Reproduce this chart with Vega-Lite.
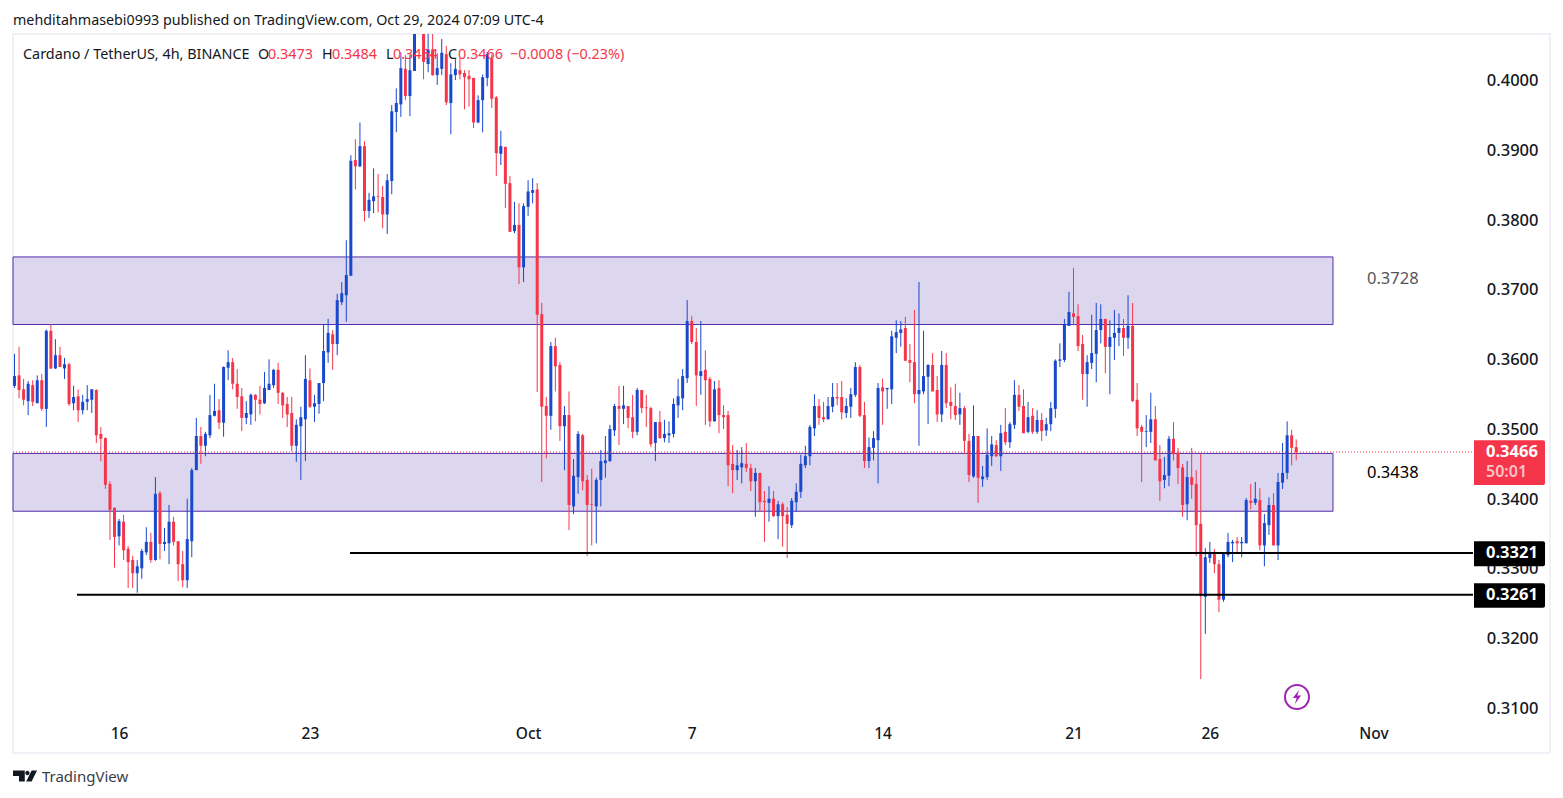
{"$schema":"https://vega.github.io/schema/vega-lite/v6.json","width":1537,"height":719,"autosize":"none","padding":{"left":13,"top":34,"right":13,"bottom":45},"background":"#ffffff","config":{"view":{"stroke":"#f0f0f6","strokeWidth":2},"font":"Noto Sans"},
"title":{"text":"mehditahmasebi0993 published on TradingView.com, Oct 29, 2024 07:09 UTC-4","anchor":"start","frame":"group","font":"Noto Sans","fontSize":14.3,"fontWeight":"normal","color":"#131722","offset":6},
"datasets":{"candles":[
{"t":"2024-09-12T04:00Z","d":"up","o":0.3561,"h":0.3607,"l":0.3558,"c":0.3575},
{"t":"2024-09-12T08:00Z","d":"down","o":0.3576,"h":0.3617,"l":0.3543,"c":0.3555},
{"t":"2024-09-12T12:00Z","d":"down","o":0.3556,"h":0.3571,"l":0.3533,"c":0.3541},
{"t":"2024-09-12T16:00Z","d":"up","o":0.3539,"h":0.3568,"l":0.3519,"c":0.3564},
{"t":"2024-09-12T20:00Z","d":"down","o":0.3562,"h":0.3569,"l":0.3532,"c":0.3538},
{"t":"2024-09-13T00:00Z","d":"up","o":0.3536,"h":0.3576,"l":0.3536,"c":0.3569},
{"t":"2024-09-13T04:00Z","d":"down","o":0.3569,"h":0.3578,"l":0.3525,"c":0.3528},
{"t":"2024-09-13T08:00Z","d":"up","o":0.3528,"h":0.3642,"l":0.3502,"c":0.3640},
{"t":"2024-09-13T12:00Z","d":"down","o":0.3640,"h":0.3649,"l":0.3585,"c":0.3586},
{"t":"2024-09-13T16:00Z","d":"up","o":0.3586,"h":0.3628,"l":0.3585,"c":0.3605},
{"t":"2024-09-13T20:00Z","d":"down","o":0.3605,"h":0.3617,"l":0.3588,"c":0.3588},
{"t":"2024-09-14T00:00Z","d":"up","o":0.3586,"h":0.3601,"l":0.3571,"c":0.3592},
{"t":"2024-09-14T04:00Z","d":"down","o":0.3592,"h":0.3594,"l":0.3532,"c":0.3535},
{"t":"2024-09-14T08:00Z","d":"up","o":0.3536,"h":0.3561,"l":0.3526,"c":0.3545},
{"t":"2024-09-14T12:00Z","d":"down","o":0.3546,"h":0.3556,"l":0.3509,"c":0.3526},
{"t":"2024-09-14T16:00Z","d":"up","o":0.3526,"h":0.3548,"l":0.3520,"c":0.3538},
{"t":"2024-09-14T20:00Z","d":"up","o":0.3538,"h":0.3562,"l":0.3526,"c":0.3542},
{"t":"2024-09-15T00:00Z","d":"up","o":0.3541,"h":0.3556,"l":0.3522,"c":0.3556},
{"t":"2024-09-15T04:00Z","d":"down","o":0.3555,"h":0.3556,"l":0.3479,"c":0.3490},
{"t":"2024-09-15T08:00Z","d":"down","o":0.3492,"h":0.3502,"l":0.3453,"c":0.3485},
{"t":"2024-09-15T12:00Z","d":"down","o":0.3486,"h":0.3487,"l":0.3413,"c":0.3419},
{"t":"2024-09-15T16:00Z","d":"down","o":0.3420,"h":0.3424,"l":0.3340,"c":0.3383},
{"t":"2024-09-15T20:00Z","d":"down","o":0.3386,"h":0.3386,"l":0.3300,"c":0.3344},
{"t":"2024-09-16T00:00Z","d":"up","o":0.3345,"h":0.3370,"l":0.3332,"c":0.3367},
{"t":"2024-09-16T04:00Z","d":"down","o":0.3366,"h":0.3376,"l":0.3311,"c":0.3325},
{"t":"2024-09-16T08:00Z","d":"down","o":0.3327,"h":0.3331,"l":0.3271,"c":0.3308},
{"t":"2024-09-16T12:00Z","d":"down","o":0.3311,"h":0.3317,"l":0.3271,"c":0.3292},
{"t":"2024-09-16T16:00Z","d":"up","o":0.3292,"h":0.3311,"l":0.3264,"c":0.3302},
{"t":"2024-09-16T20:00Z","d":"up","o":0.3299,"h":0.3327,"l":0.3284,"c":0.3324},
{"t":"2024-09-17T00:00Z","d":"up","o":0.3322,"h":0.3358,"l":0.3318,"c":0.3337},
{"t":"2024-09-17T04:00Z","d":"down","o":0.3337,"h":0.3350,"l":0.3307,"c":0.3311},
{"t":"2024-09-17T08:00Z","d":"up","o":0.3311,"h":0.3430,"l":0.3310,"c":0.3406},
{"t":"2024-09-17T12:00Z","d":"down","o":0.3407,"h":0.3410,"l":0.3312,"c":0.3334},
{"t":"2024-09-17T16:00Z","d":"up","o":0.3334,"h":0.3357,"l":0.3324,"c":0.3337},
{"t":"2024-09-17T20:00Z","d":"up","o":0.3335,"h":0.3390,"l":0.3305,"c":0.3366},
{"t":"2024-09-18T00:00Z","d":"down","o":0.3366,"h":0.3373,"l":0.3332,"c":0.3337},
{"t":"2024-09-18T04:00Z","d":"down","o":0.3338,"h":0.3338,"l":0.3281,"c":0.3305},
{"t":"2024-09-18T08:00Z","d":"down","o":0.3305,"h":0.3324,"l":0.3272,"c":0.3282},
{"t":"2024-09-18T12:00Z","d":"up","o":0.3282,"h":0.3399,"l":0.3271,"c":0.3341},
{"t":"2024-09-18T16:00Z","d":"up","o":0.3338,"h":0.3443,"l":0.3315,"c":0.3440},
{"t":"2024-09-18T20:00Z","d":"up","o":0.3440,"h":0.3515,"l":0.3440,"c":0.3489},
{"t":"2024-09-19T00:00Z","d":"down","o":0.3489,"h":0.3502,"l":0.3449,"c":0.3475},
{"t":"2024-09-19T04:00Z","d":"up","o":0.3475,"h":0.3495,"l":0.3460,"c":0.3492},
{"t":"2024-09-19T08:00Z","d":"up","o":0.3490,"h":0.3548,"l":0.3486,"c":0.3519},
{"t":"2024-09-19T12:00Z","d":"up","o":0.3518,"h":0.3564,"l":0.3517,"c":0.3525},
{"t":"2024-09-19T16:00Z","d":"down","o":0.3526,"h":0.3542,"l":0.3499,"c":0.3508},
{"t":"2024-09-19T20:00Z","d":"up","o":0.3508,"h":0.3589,"l":0.3488,"c":0.3588},
{"t":"2024-09-20T00:00Z","d":"up","o":0.3587,"h":0.3612,"l":0.3569,"c":0.3595},
{"t":"2024-09-20T04:00Z","d":"down","o":0.3595,"h":0.3601,"l":0.3556,"c":0.3564},
{"t":"2024-09-20T08:00Z","d":"down","o":0.3564,"h":0.3585,"l":0.3528,"c":0.3545},
{"t":"2024-09-20T12:00Z","d":"down","o":0.3546,"h":0.3558,"l":0.3496,"c":0.3515},
{"t":"2024-09-20T16:00Z","d":"up","o":0.3515,"h":0.3539,"l":0.3506,"c":0.3522},
{"t":"2024-09-20T20:00Z","d":"up","o":0.3520,"h":0.3550,"l":0.3505,"c":0.3548},
{"t":"2024-09-21T00:00Z","d":"down","o":0.3548,"h":0.3549,"l":0.3510,"c":0.3541},
{"t":"2024-09-21T04:00Z","d":"down","o":0.3541,"h":0.3561,"l":0.3520,"c":0.3535},
{"t":"2024-09-21T08:00Z","d":"up","o":0.3536,"h":0.3581,"l":0.3535,"c":0.3558},
{"t":"2024-09-21T12:00Z","d":"up","o":0.3555,"h":0.3599,"l":0.3555,"c":0.3564},
{"t":"2024-09-21T16:00Z","d":"up","o":0.3562,"h":0.3585,"l":0.3558,"c":0.3584},
{"t":"2024-09-21T20:00Z","d":"down","o":0.3584,"h":0.3594,"l":0.3535,"c":0.3551},
{"t":"2024-09-22T00:00Z","d":"down","o":0.3551,"h":0.3552,"l":0.3515,"c":0.3533},
{"t":"2024-09-22T04:00Z","d":"down","o":0.3535,"h":0.3545,"l":0.3502,"c":0.3520},
{"t":"2024-09-22T08:00Z","d":"down","o":0.3522,"h":0.3545,"l":0.3467,"c":0.3475},
{"t":"2024-09-22T12:00Z","d":"up","o":0.3475,"h":0.3513,"l":0.3452,"c":0.3505},
{"t":"2024-09-22T16:00Z","d":"up","o":0.3503,"h":0.3531,"l":0.3426,"c":0.3516},
{"t":"2024-09-22T20:00Z","d":"up","o":0.3513,"h":0.3605,"l":0.3453,"c":0.3571},
{"t":"2024-09-23T00:00Z","d":"down","o":0.3569,"h":0.3586,"l":0.3529,"c":0.3531},
{"t":"2024-09-23T04:00Z","d":"up","o":0.3531,"h":0.3548,"l":0.3509,"c":0.3536},
{"t":"2024-09-23T08:00Z","d":"up","o":0.3535,"h":0.3565,"l":0.3521,"c":0.3565},
{"t":"2024-09-23T12:00Z","d":"up","o":0.3565,"h":0.3650,"l":0.3539,"c":0.3611},
{"t":"2024-09-23T16:00Z","d":"up","o":0.3609,"h":0.3657,"l":0.3594,"c":0.3637},
{"t":"2024-09-23T20:00Z","d":"down","o":0.3635,"h":0.3641,"l":0.3584,"c":0.3621},
{"t":"2024-09-24T00:00Z","d":"up","o":0.3621,"h":0.3693,"l":0.3605,"c":0.3684},
{"t":"2024-09-24T04:00Z","d":"up","o":0.3681,"h":0.3710,"l":0.3677,"c":0.3694},
{"t":"2024-09-24T08:00Z","d":"up","o":0.3691,"h":0.3770,"l":0.3653,"c":0.3720},
{"t":"2024-09-24T12:00Z","d":"up","o":0.3719,"h":0.3892,"l":0.3719,"c":0.3884},
{"t":"2024-09-24T16:00Z","d":"down","o":0.3885,"h":0.3915,"l":0.3843,"c":0.3876},
{"t":"2024-09-24T20:00Z","d":"up","o":0.3876,"h":0.3939,"l":0.3875,"c":0.3905},
{"t":"2024-09-25T00:00Z","d":"down","o":0.3905,"h":0.3912,"l":0.3797,"c":0.3812},
{"t":"2024-09-25T04:00Z","d":"up","o":0.3812,"h":0.3838,"l":0.3802,"c":0.3828},
{"t":"2024-09-25T08:00Z","d":"up","o":0.3826,"h":0.3873,"l":0.3809,"c":0.3833},
{"t":"2024-09-25T12:00Z","d":"down","o":0.3833,"h":0.3865,"l":0.3810,"c":0.3832},
{"t":"2024-09-25T16:00Z","d":"down","o":0.3832,"h":0.3848,"l":0.3787,"c":0.3807},
{"t":"2024-09-25T20:00Z","d":"up","o":0.3807,"h":0.3865,"l":0.3779,"c":0.3856},
{"t":"2024-09-26T00:00Z","d":"up","o":0.3855,"h":0.3964,"l":0.3836,"c":0.3955},
{"t":"2024-09-26T04:00Z","d":"up","o":0.3954,"h":0.3988,"l":0.3925,"c":0.3967},
{"t":"2024-09-26T08:00Z","d":"up","o":0.3965,"h":0.4040,"l":0.3947,"c":0.4017},
{"t":"2024-09-26T12:00Z","d":"down","o":0.4016,"h":0.4036,"l":0.3971,"c":0.3977},
{"t":"2024-09-26T16:00Z","d":"up","o":0.3977,"h":0.4036,"l":0.3948,"c":0.4014},
{"t":"2024-09-26T20:00Z","d":"up","o":0.4013,"h":0.4085,"l":0.4013,"c":0.4072},
{"t":"2024-09-27T00:00Z","d":"up","o":0.4085,"h":0.4120,"l":0.4072,"c":0.4105},
{"t":"2024-09-27T04:00Z","d":"down","o":0.4075,"h":0.4085,"l":0.4001,"c":0.4026},
{"t":"2024-09-27T08:00Z","d":"up","o":0.4023,"h":0.4078,"l":0.4011,"c":0.4044},
{"t":"2024-09-27T12:00Z","d":"down","o":0.4044,"h":0.4078,"l":0.4006,"c":0.4007},
{"t":"2024-09-27T16:00Z","d":"up","o":0.4007,"h":0.4038,"l":0.3993,"c":0.4017},
{"t":"2024-09-27T20:00Z","d":"up","o":0.4016,"h":0.4059,"l":0.4007,"c":0.4039},
{"t":"2024-09-28T00:00Z","d":"down","o":0.4037,"h":0.4049,"l":0.3964,"c":0.3968},
{"t":"2024-09-28T04:00Z","d":"up","o":0.3967,"h":0.4024,"l":0.3922,"c":0.4008},
{"t":"2024-09-28T08:00Z","d":"up","o":0.4007,"h":0.4030,"l":0.4000,"c":0.4016},
{"t":"2024-09-28T12:00Z","d":"down","o":0.4014,"h":0.4031,"l":0.4001,"c":0.4008},
{"t":"2024-09-28T16:00Z","d":"down","o":0.4010,"h":0.4014,"l":0.3958,"c":0.4004},
{"t":"2024-09-28T20:00Z","d":"down","o":0.4006,"h":0.4014,"l":0.3962,"c":0.4001},
{"t":"2024-09-29T00:00Z","d":"down","o":0.4003,"h":0.4003,"l":0.3931,"c":0.3939},
{"t":"2024-09-29T04:00Z","d":"up","o":0.3939,"h":0.3978,"l":0.3938,"c":0.3971},
{"t":"2024-09-29T08:00Z","d":"up","o":0.3971,"h":0.4008,"l":0.3925,"c":0.4004},
{"t":"2024-09-29T12:00Z","d":"up","o":0.4003,"h":0.4040,"l":0.3991,"c":0.4037},
{"t":"2024-09-29T16:00Z","d":"down","o":0.4031,"h":0.4037,"l":0.3960,"c":0.3973},
{"t":"2024-09-29T20:00Z","d":"down","o":0.3975,"h":0.3977,"l":0.3862,"c":0.3895},
{"t":"2024-09-30T00:00Z","d":"up","o":0.3894,"h":0.3927,"l":0.3878,"c":0.3905},
{"t":"2024-09-30T04:00Z","d":"down","o":0.3904,"h":0.3904,"l":0.3816,"c":0.3851},
{"t":"2024-09-30T08:00Z","d":"down","o":0.3852,"h":0.3862,"l":0.3782,"c":0.3782},
{"t":"2024-09-30T12:00Z","d":"up","o":0.3783,"h":0.3825,"l":0.3780,"c":0.3792},
{"t":"2024-09-30T16:00Z","d":"down","o":0.3792,"h":0.3823,"l":0.3707,"c":0.3731},
{"t":"2024-09-30T20:00Z","d":"up","o":0.3731,"h":0.3823,"l":0.3710,"c":0.3819},
{"t":"2024-10-01T00:00Z","d":"up","o":0.3818,"h":0.3856,"l":0.3805,"c":0.3840},
{"t":"2024-10-01T04:00Z","d":"up","o":0.3838,"h":0.3859,"l":0.3823,"c":0.3842},
{"t":"2024-10-01T08:00Z","d":"down","o":0.3843,"h":0.3852,"l":0.3552,"c":0.3663},
{"t":"2024-10-01T12:00Z","d":"down","o":0.3664,"h":0.3680,"l":0.3423,"c":0.3531},
{"t":"2024-10-01T16:00Z","d":"down","o":0.3532,"h":0.3545,"l":0.3457,"c":0.3518},
{"t":"2024-10-01T20:00Z","d":"up","o":0.3518,"h":0.3624,"l":0.3498,"c":0.3618},
{"t":"2024-10-02T00:00Z","d":"down","o":0.3618,"h":0.3630,"l":0.3553,"c":0.3589},
{"t":"2024-10-02T04:00Z","d":"down","o":0.3591,"h":0.3595,"l":0.3482,"c":0.3503},
{"t":"2024-10-02T08:00Z","d":"up","o":0.3503,"h":0.3532,"l":0.3440,"c":0.3519},
{"t":"2024-10-02T12:00Z","d":"down","o":0.3519,"h":0.3553,"l":0.3354,"c":0.3390},
{"t":"2024-10-02T16:00Z","d":"up","o":0.3388,"h":0.3456,"l":0.3377,"c":0.3432},
{"t":"2024-10-02T20:00Z","d":"up","o":0.3430,"h":0.3496,"l":0.3406,"c":0.3492},
{"t":"2024-10-03T00:00Z","d":"down","o":0.3490,"h":0.3492,"l":0.3411,"c":0.3424},
{"t":"2024-10-03T04:00Z","d":"down","o":0.3426,"h":0.3433,"l":0.3317,"c":0.3390},
{"t":"2024-10-03T08:00Z","d":"down","o":0.3391,"h":0.3442,"l":0.3332,"c":0.3390},
{"t":"2024-10-03T12:00Z","d":"up","o":0.3388,"h":0.3429,"l":0.3335,"c":0.3426},
{"t":"2024-10-03T16:00Z","d":"up","o":0.3426,"h":0.3469,"l":0.3388,"c":0.3453},
{"t":"2024-10-03T20:00Z","d":"up","o":0.3450,"h":0.3489,"l":0.3429,"c":0.3454},
{"t":"2024-10-04T00:00Z","d":"up","o":0.3453,"h":0.3505,"l":0.3452,"c":0.3499},
{"t":"2024-10-04T04:00Z","d":"up","o":0.3497,"h":0.3535,"l":0.3489,"c":0.3532},
{"t":"2024-10-04T08:00Z","d":"down","o":0.3532,"h":0.3561,"l":0.3476,"c":0.3528},
{"t":"2024-10-04T12:00Z","d":"up","o":0.3528,"h":0.3561,"l":0.3506,"c":0.3533},
{"t":"2024-10-04T16:00Z","d":"down","o":0.3532,"h":0.3532,"l":0.3500,"c":0.3515},
{"t":"2024-10-04T20:00Z","d":"down","o":0.3516,"h":0.3548,"l":0.3486,"c":0.3495},
{"t":"2024-10-05T00:00Z","d":"up","o":0.3495,"h":0.3558,"l":0.3490,"c":0.3555},
{"t":"2024-10-05T04:00Z","d":"down","o":0.3555,"h":0.3555,"l":0.3522,"c":0.3529},
{"t":"2024-10-05T08:00Z","d":"down","o":0.3530,"h":0.3548,"l":0.3502,"c":0.3529},
{"t":"2024-10-05T12:00Z","d":"down","o":0.3529,"h":0.3531,"l":0.3473,"c":0.3477},
{"t":"2024-10-05T16:00Z","d":"up","o":0.3479,"h":0.3509,"l":0.3453,"c":0.3509},
{"t":"2024-10-05T20:00Z","d":"down","o":0.3509,"h":0.3525,"l":0.3485,"c":0.3486},
{"t":"2024-10-06T00:00Z","d":"up","o":0.3486,"h":0.3512,"l":0.3480,"c":0.3492},
{"t":"2024-10-06T04:00Z","d":"up","o":0.3490,"h":0.3510,"l":0.3479,"c":0.3493},
{"t":"2024-10-06T08:00Z","d":"up","o":0.3492,"h":0.3543,"l":0.3487,"c":0.3535},
{"t":"2024-10-06T12:00Z","d":"up","o":0.3533,"h":0.3571,"l":0.3515,"c":0.3546},
{"t":"2024-10-06T16:00Z","d":"up","o":0.3543,"h":0.3585,"l":0.3526,"c":0.3575},
{"t":"2024-10-06T20:00Z","d":"up","o":0.3572,"h":0.3684,"l":0.3565,"c":0.3654},
{"t":"2024-10-07T00:00Z","d":"down","o":0.3654,"h":0.3661,"l":0.3621,"c":0.3624},
{"t":"2024-10-07T04:00Z","d":"down","o":0.3624,"h":0.3644,"l":0.3532,"c":0.3576},
{"t":"2024-10-07T08:00Z","d":"up","o":0.3575,"h":0.3654,"l":0.3548,"c":0.3582},
{"t":"2024-10-07T12:00Z","d":"down","o":0.3584,"h":0.3612,"l":0.3505,"c":0.3569},
{"t":"2024-10-07T16:00Z","d":"down","o":0.3571,"h":0.3574,"l":0.3502,"c":0.3510},
{"t":"2024-10-07T20:00Z","d":"up","o":0.3510,"h":0.3568,"l":0.3510,"c":0.3556},
{"t":"2024-10-08T00:00Z","d":"down","o":0.3558,"h":0.3569,"l":0.3493,"c":0.3519},
{"t":"2024-10-08T04:00Z","d":"down","o":0.3519,"h":0.3533,"l":0.3499,"c":0.3516},
{"t":"2024-10-08T08:00Z","d":"down","o":0.3519,"h":0.3525,"l":0.3417,"c":0.3447},
{"t":"2024-10-08T12:00Z","d":"down","o":0.3449,"h":0.3476,"l":0.3407,"c":0.3440},
{"t":"2024-10-08T16:00Z","d":"up","o":0.3440,"h":0.3469,"l":0.3426,"c":0.3447},
{"t":"2024-10-08T20:00Z","d":"up","o":0.3444,"h":0.3473,"l":0.3421,"c":0.3450},
{"t":"2024-10-09T00:00Z","d":"down","o":0.3449,"h":0.3479,"l":0.3437,"c":0.3443},
{"t":"2024-10-09T04:00Z","d":"down","o":0.3443,"h":0.3449,"l":0.3410,"c":0.3424},
{"t":"2024-10-09T08:00Z","d":"up","o":0.3424,"h":0.3443,"l":0.3373,"c":0.3436},
{"t":"2024-10-09T12:00Z","d":"down","o":0.3436,"h":0.3436,"l":0.3380,"c":0.3394},
{"t":"2024-10-09T16:00Z","d":"down","o":0.3396,"h":0.3410,"l":0.3337,"c":0.3394},
{"t":"2024-10-09T20:00Z","d":"up","o":0.3393,"h":0.3417,"l":0.3366,"c":0.3399},
{"t":"2024-10-10T00:00Z","d":"down","o":0.3399,"h":0.3410,"l":0.3373,"c":0.3374},
{"t":"2024-10-10T04:00Z","d":"up","o":0.3374,"h":0.3396,"l":0.3341,"c":0.3391},
{"t":"2024-10-10T08:00Z","d":"down","o":0.3391,"h":0.3394,"l":0.3330,"c":0.3374},
{"t":"2024-10-10T12:00Z","d":"down","o":0.3376,"h":0.3387,"l":0.3314,"c":0.3363},
{"t":"2024-10-10T16:00Z","d":"up","o":0.3361,"h":0.3400,"l":0.3357,"c":0.3396},
{"t":"2024-10-10T20:00Z","d":"up","o":0.3394,"h":0.3421,"l":0.3381,"c":0.3409},
{"t":"2024-10-11T00:00Z","d":"up","o":0.3409,"h":0.3462,"l":0.3400,"c":0.3449},
{"t":"2024-10-11T04:00Z","d":"up","o":0.3447,"h":0.3475,"l":0.3443,"c":0.3460},
{"t":"2024-10-11T08:00Z","d":"up","o":0.3460,"h":0.3505,"l":0.3447,"c":0.3502},
{"t":"2024-10-11T12:00Z","d":"up","o":0.3500,"h":0.3549,"l":0.3489,"c":0.3532},
{"t":"2024-10-11T16:00Z","d":"down","o":0.3532,"h":0.3542,"l":0.3505,"c":0.3515},
{"t":"2024-10-11T20:00Z","d":"down","o":0.3516,"h":0.3538,"l":0.3509,"c":0.3513},
{"t":"2024-10-12T00:00Z","d":"up","o":0.3513,"h":0.3545,"l":0.3513,"c":0.3532},
{"t":"2024-10-12T04:00Z","d":"up","o":0.3531,"h":0.3565,"l":0.3523,"c":0.3545},
{"t":"2024-10-12T08:00Z","d":"down","o":0.3545,"h":0.3565,"l":0.3533,"c":0.3543},
{"t":"2024-10-12T12:00Z","d":"down","o":0.3545,"h":0.3568,"l":0.3513,"c":0.3523},
{"t":"2024-10-12T16:00Z","d":"up","o":0.3522,"h":0.3543,"l":0.3515,"c":0.3532},
{"t":"2024-10-12T20:00Z","d":"up","o":0.3531,"h":0.3558,"l":0.3515,"c":0.3549},
{"t":"2024-10-13T00:00Z","d":"up","o":0.3548,"h":0.3595,"l":0.3545,"c":0.3588},
{"t":"2024-10-13T04:00Z","d":"down","o":0.3588,"h":0.3591,"l":0.3516,"c":0.3518},
{"t":"2024-10-13T08:00Z","d":"down","o":0.3519,"h":0.3538,"l":0.3443,"c":0.3453},
{"t":"2024-10-13T12:00Z","d":"up","o":0.3453,"h":0.3487,"l":0.3443,"c":0.3473},
{"t":"2024-10-13T16:00Z","d":"up","o":0.3472,"h":0.3496,"l":0.3454,"c":0.3486},
{"t":"2024-10-13T20:00Z","d":"up","o":0.3483,"h":0.3565,"l":0.3421,"c":0.3558},
{"t":"2024-10-14T00:00Z","d":"down","o":0.3559,"h":0.3571,"l":0.3505,"c":0.3553},
{"t":"2024-10-14T04:00Z","d":"up","o":0.3556,"h":0.3558,"l":0.3528,"c":0.3558},
{"t":"2024-10-14T08:00Z","d":"up","o":0.3556,"h":0.3640,"l":0.3535,"c":0.3632},
{"t":"2024-10-14T12:00Z","d":"up","o":0.3630,"h":0.3655,"l":0.3608,"c":0.3638},
{"t":"2024-10-14T16:00Z","d":"up","o":0.3637,"h":0.3654,"l":0.3617,"c":0.3642},
{"t":"2024-10-14T20:00Z","d":"down","o":0.3644,"h":0.3660,"l":0.3597,"c":0.3597},
{"t":"2024-10-15T00:00Z","d":"down","o":0.3598,"h":0.3621,"l":0.3566,"c":0.3594},
{"t":"2024-10-15T04:00Z","d":"down","o":0.3595,"h":0.3670,"l":0.3536,"c":0.3549},
{"t":"2024-10-15T08:00Z","d":"up","o":0.3549,"h":0.3710,"l":0.3475,"c":0.3555},
{"t":"2024-10-15T12:00Z","d":"up","o":0.3553,"h":0.3640,"l":0.3549,"c":0.3575},
{"t":"2024-10-15T16:00Z","d":"up","o":0.3574,"h":0.3592,"l":0.3506,"c":0.3591},
{"t":"2024-10-15T20:00Z","d":"down","o":0.3591,"h":0.3608,"l":0.3553,"c":0.3553},
{"t":"2024-10-16T00:00Z","d":"down","o":0.3555,"h":0.3575,"l":0.3509,"c":0.3520},
{"t":"2024-10-16T04:00Z","d":"up","o":0.3520,"h":0.3611,"l":0.3509,"c":0.3591},
{"t":"2024-10-16T08:00Z","d":"down","o":0.3591,"h":0.3608,"l":0.3529,"c":0.3536},
{"t":"2024-10-16T12:00Z","d":"down","o":0.3538,"h":0.3559,"l":0.3513,"c":0.3532},
{"t":"2024-10-16T16:00Z","d":"down","o":0.3532,"h":0.3564,"l":0.3512,"c":0.3519},
{"t":"2024-10-16T20:00Z","d":"up","o":0.3520,"h":0.3551,"l":0.3505,"c":0.3529},
{"t":"2024-10-17T00:00Z","d":"down","o":0.3529,"h":0.3532,"l":0.3463,"c":0.3482},
{"t":"2024-10-17T04:00Z","d":"down","o":0.3482,"h":0.3492,"l":0.3423,"c":0.3433},
{"t":"2024-10-17T08:00Z","d":"up","o":0.3431,"h":0.3533,"l":0.3429,"c":0.3489},
{"t":"2024-10-17T12:00Z","d":"down","o":0.3489,"h":0.3489,"l":0.3393,"c":0.3429},
{"t":"2024-10-17T16:00Z","d":"up","o":0.3427,"h":0.3446,"l":0.3416,"c":0.3431},
{"t":"2024-10-17T20:00Z","d":"up","o":0.3430,"h":0.3500,"l":0.3426,"c":0.3462},
{"t":"2024-10-18T00:00Z","d":"up","o":0.3460,"h":0.3489,"l":0.3446,"c":0.3477},
{"t":"2024-10-18T04:00Z","d":"down","o":0.3476,"h":0.3483,"l":0.3459,"c":0.3460},
{"t":"2024-10-18T08:00Z","d":"up","o":0.3460,"h":0.3505,"l":0.3439,"c":0.3493},
{"t":"2024-10-18T12:00Z","d":"down","o":0.3495,"h":0.3529,"l":0.3476,"c":0.3480},
{"t":"2024-10-18T16:00Z","d":"up","o":0.3480,"h":0.3509,"l":0.3472,"c":0.3506},
{"t":"2024-10-18T20:00Z","d":"up","o":0.3505,"h":0.3569,"l":0.3499,"c":0.3548},
{"t":"2024-10-19T00:00Z","d":"down","o":0.3548,"h":0.3562,"l":0.3525,"c":0.3531},
{"t":"2024-10-19T04:00Z","d":"down","o":0.3532,"h":0.3556,"l":0.3493,"c":0.3493},
{"t":"2024-10-19T08:00Z","d":"up","o":0.3495,"h":0.3538,"l":0.3493,"c":0.3516},
{"t":"2024-10-19T12:00Z","d":"down","o":0.3518,"h":0.3529,"l":0.3492,"c":0.3495},
{"t":"2024-10-19T16:00Z","d":"up","o":0.3495,"h":0.3526,"l":0.3492,"c":0.3512},
{"t":"2024-10-19T20:00Z","d":"down","o":0.3512,"h":0.3522,"l":0.3482,"c":0.3496},
{"t":"2024-10-20T00:00Z","d":"up","o":0.3497,"h":0.3515,"l":0.3489,"c":0.3506},
{"t":"2024-10-20T04:00Z","d":"up","o":0.3506,"h":0.3538,"l":0.3496,"c":0.3529},
{"t":"2024-10-20T08:00Z","d":"up","o":0.3528,"h":0.3599,"l":0.3515,"c":0.3597},
{"t":"2024-10-20T12:00Z","d":"up","o":0.3597,"h":0.3622,"l":0.3588,"c":0.3599},
{"t":"2024-10-20T16:00Z","d":"up","o":0.3598,"h":0.3657,"l":0.3595,"c":0.3649},
{"t":"2024-10-20T20:00Z","d":"up","o":0.3647,"h":0.3696,"l":0.3647,"c":0.3667},
{"t":"2024-10-21T00:00Z","d":"down","o":0.3665,"h":0.3730,"l":0.3648,"c":0.3660},
{"t":"2024-10-21T04:00Z","d":"down","o":0.3661,"h":0.3678,"l":0.3611,"c":0.3618},
{"t":"2024-10-21T08:00Z","d":"down","o":0.3621,"h":0.3634,"l":0.3541,"c":0.3578},
{"t":"2024-10-21T12:00Z","d":"up","o":0.3578,"h":0.3605,"l":0.3531,"c":0.3595},
{"t":"2024-10-21T16:00Z","d":"up","o":0.3594,"h":0.3663,"l":0.3585,"c":0.3608},
{"t":"2024-10-21T20:00Z","d":"up","o":0.3607,"h":0.3680,"l":0.3566,"c":0.3641},
{"t":"2024-10-22T00:00Z","d":"up","o":0.3641,"h":0.3678,"l":0.3622,"c":0.3657},
{"t":"2024-10-22T04:00Z","d":"down","o":0.3657,"h":0.3657,"l":0.3579,"c":0.3617},
{"t":"2024-10-22T08:00Z","d":"up","o":0.3617,"h":0.3655,"l":0.3549,"c":0.3631},
{"t":"2024-10-22T12:00Z","d":"up","o":0.3630,"h":0.3670,"l":0.3598,"c":0.3637},
{"t":"2024-10-22T16:00Z","d":"up","o":0.3637,"h":0.3665,"l":0.3618,"c":0.3644},
{"t":"2024-10-22T20:00Z","d":"down","o":0.3644,"h":0.3657,"l":0.3604,"c":0.3630},
{"t":"2024-10-23T00:00Z","d":"up","o":0.3630,"h":0.3691,"l":0.3614,"c":0.3647},
{"t":"2024-10-23T04:00Z","d":"down","o":0.3647,"h":0.3680,"l":0.3538,"c":0.3539},
{"t":"2024-10-23T08:00Z","d":"down","o":0.3541,"h":0.3565,"l":0.3489,"c":0.3500},
{"t":"2024-10-23T12:00Z","d":"down","o":0.3502,"h":0.3505,"l":0.3423,"c":0.3495},
{"t":"2024-10-23T16:00Z","d":"up","o":0.3495,"h":0.3519,"l":0.3473,"c":0.3496},
{"t":"2024-10-23T20:00Z","d":"up","o":0.3495,"h":0.3551,"l":0.3479,"c":0.3513},
{"t":"2024-10-24T00:00Z","d":"down","o":0.3513,"h":0.3532,"l":0.3454,"c":0.3454},
{"t":"2024-10-24T04:00Z","d":"down","o":0.3456,"h":0.3476,"l":0.3396,"c":0.3424},
{"t":"2024-10-24T08:00Z","d":"up","o":0.3426,"h":0.3459,"l":0.3414,"c":0.3433},
{"t":"2024-10-24T12:00Z","d":"up","o":0.3432,"h":0.3489,"l":0.3417,"c":0.3485},
{"t":"2024-10-24T16:00Z","d":"down","o":0.3485,"h":0.3509,"l":0.3454,"c":0.3463},
{"t":"2024-10-24T20:00Z","d":"down","o":0.3465,"h":0.3472,"l":0.3420,"c":0.3443},
{"t":"2024-10-25T00:00Z","d":"down","o":0.3444,"h":0.3449,"l":0.3373,"c":0.3390},
{"t":"2024-10-25T04:00Z","d":"up","o":0.3391,"h":0.3453,"l":0.3368,"c":0.3430},
{"t":"2024-10-25T08:00Z","d":"down","o":0.3430,"h":0.3472,"l":0.3399,"c":0.3419},
{"t":"2024-10-25T12:00Z","d":"down","o":0.3420,"h":0.3440,"l":0.3317,"c":0.3361},
{"t":"2024-10-25T16:00Z","d":"down","o":0.3363,"h":0.3464,"l":0.3140,"c":0.3259},
{"t":"2024-10-25T20:00Z","d":"up","o":0.3258,"h":0.3328,"l":0.3205,"c":0.3315},
{"t":"2024-10-26T00:00Z","d":"up","o":0.3314,"h":0.3337,"l":0.3307,"c":0.3321},
{"t":"2024-10-26T04:00Z","d":"down","o":0.3322,"h":0.3327,"l":0.3292,"c":0.3305},
{"t":"2024-10-26T08:00Z","d":"down","o":0.3305,"h":0.3311,"l":0.3236,"c":0.3254},
{"t":"2024-10-26T12:00Z","d":"up","o":0.3254,"h":0.3320,"l":0.3251,"c":0.3320},
{"t":"2024-10-26T16:00Z","d":"up","o":0.3318,"h":0.3350,"l":0.3315,"c":0.3337},
{"t":"2024-10-26T20:00Z","d":"up","o":0.3335,"h":0.3340,"l":0.3308,"c":0.3337},
{"t":"2024-10-27T00:00Z","d":"down","o":0.3338,"h":0.3344,"l":0.3321,"c":0.3335},
{"t":"2024-10-27T04:00Z","d":"up","o":0.3335,"h":0.3344,"l":0.3315,"c":0.3337},
{"t":"2024-10-27T08:00Z","d":"up","o":0.3335,"h":0.3400,"l":0.3335,"c":0.3397},
{"t":"2024-10-27T12:00Z","d":"down","o":0.3396,"h":0.3420,"l":0.3384,"c":0.3393},
{"t":"2024-10-27T16:00Z","d":"up","o":0.3393,"h":0.3423,"l":0.3390,"c":0.3399},
{"t":"2024-10-27T20:00Z","d":"down","o":0.3397,"h":0.3414,"l":0.3325,"c":0.3332},
{"t":"2024-10-28T00:00Z","d":"up","o":0.3332,"h":0.3377,"l":0.3302,"c":0.3364},
{"t":"2024-10-28T04:00Z","d":"up","o":0.3361,"h":0.3401,"l":0.3347,"c":0.3390},
{"t":"2024-10-28T08:00Z","d":"down","o":0.3390,"h":0.3407,"l":0.3332,"c":0.3332},
{"t":"2024-10-28T12:00Z","d":"up","o":0.3332,"h":0.3436,"l":0.3311,"c":0.3423},
{"t":"2024-10-28T16:00Z","d":"up","o":0.3422,"h":0.3479,"l":0.3413,"c":0.3436},
{"t":"2024-10-28T20:00Z","d":"up","o":0.3436,"h":0.3510,"l":0.3427,"c":0.3490},
{"t":"2024-10-29T00:00Z","d":"down","o":0.3490,"h":0.3498,"l":0.3447,"c":0.3472},
{"t":"2024-10-29T04:00Z","d":"down","o":0.3473,"h":0.3484,"l":0.3454,"c":0.3466}
]},
"layer":[
{"data":{"values":[{"t":"2024-09-12T02:40Z","t2":"2024-10-30T12:22Z","p":0.3746,"p2":0.3649},{"t":"2024-09-12T02:40Z","t2":"2024-10-30T12:22Z","p":0.3464,"p2":0.3381}]},
"mark":{"type":"rect","fill":"#dcd6ee","stroke":"#512da8","strokeWidth":1},
"encoding":{"x":{"field":"t","type":"temporal","title":null,"scale":{"type":"utc","nice":false,"padding":0,"domain":["2024-09-12T02:40Z","2024-11-07T11:21Z"]},
"axis":{"orient":"bottom","domain":false,"ticks":false,"grid":false,"labelPadding":-20,"labelBaseline":"middle","labelFont":"Noto Sans","labelFontSize":15.5,"labelFontWeight":500,"labelColor":"#131722","labelOverlap":false,"labelFlush":false,"labelBound":false,
"values":[{"year":2024,"month":9,"date":16,"utc":true},{"year":2024,"month":9,"date":23,"utc":true},{"year":2024,"month":10,"date":1,"utc":true},{"year":2024,"month":10,"date":7,"utc":true},{"year":2024,"month":10,"date":14,"utc":true},{"year":2024,"month":10,"date":21,"utc":true},{"year":2024,"month":10,"date":26,"utc":true},{"year":2024,"month":11,"date":1,"utc":true}],
"labelExpr":"utcdate(datum.value)==1 ? utcFormat(datum.value,'%b') : utcFormat(datum.value,'%-d')"}},"x2":{"field":"t2"},
"y":{"field":"p","type":"quantitative","title":null,"scale":{"domain":[0.3034,0.4066],"nice":false,"zero":false},
"axis":{"orient":"right","domain":false,"ticks":false,"grid":false,"labelPadding":-12,"labelAlign":"right","labelBaseline":"middle","labelOffset":1,"labelFont":"Noto Sans","labelFontSize":16.5,"labelFontWeight":500,"labelColor":"#131722","format":".4f","labelOverlap":false,"labelFlush":false,"labelBound":false,"values":[0.31,0.32,0.33,0.34,0.35,0.36,0.37,0.38,0.39,0.40]}},"y2":{"field":"p2"}}},
{"data":{"name":"candles"},"mark":{"type":"rule","strokeWidth":1,"clip":true},"encoding":{"x":{"field":"t","type":"temporal","title":null},"y":{"field":"l","type":"quantitative","title":null},"y2":{"field":"h"},"color":{"field":"d","type":"nominal","legend":null,"scale":{"domain":["up","down"],"range":["#1848cc","#f5364a"]}}}},
{"data":{"name":"candles"},"mark":{"type":"bar","size":3,"clip":true},"encoding":{"x":{"field":"t","type":"temporal","title":null},"y":{"field":"o","type":"quantitative","title":null},"y2":{"field":"c"},"color":{"field":"d","type":"nominal","legend":null}}},
{"data":{"values":[{"t":"2024-09-12T02:40Z","t2":"2024-11-04T15:34Z","p":0.3466}]},"mark":{"type":"rule","color":"#f5364a","strokeWidth":1,"strokeDash":[1,2]},"encoding":{"x":{"field":"t","type":"temporal","title":null},"x2":{"field":"t2"},"y":{"field":"p","type":"quantitative","title":null}}},
{"data":{"values":[{"t":"2024-09-24T11:16Z","t2":"2024-11-04T15:34Z","p":0.3321},{"t":"2024-09-14T10:58Z","t2":"2024-11-04T15:34Z","p":0.3261}]},"mark":{"type":"rule","color":"#000000","strokeWidth":2},"encoding":{"x":{"field":"t","type":"temporal","title":null},"x2":{"field":"t2"},"y":{"field":"p","type":"quantitative","title":null}}},
{"data":{"values":[{"t":"2024-11-04T16:28Z","t2":"2024-11-07T06:58Z","p":0.3338,"p2":0.3302},{"t":"2024-11-04T16:28Z","t2":"2024-11-07T06:58Z","p":0.32775,"p2":0.32425}]},"mark":{"type":"rect","fill":"#000000","cornerRadiusTopRight":2,"cornerRadiusBottomRight":2},"encoding":{"x":{"field":"t","type":"temporal","title":null},"x2":{"field":"t2"},"y":{"field":"p","type":"quantitative","title":null},"y2":{"field":"p2"}}},
{"data":{"values":[{"t":"2024-11-04T16:28Z","t2":"2024-11-07T06:58Z","p":0.3483,"p2":0.34186}]},"mark":{"type":"rect","fill":"#f5364a","cornerRadiusTopRight":2,"cornerRadiusBottomRight":2},"encoding":{"x":{"field":"t","type":"temporal","title":null},"x2":{"field":"t2"},"y":{"field":"p","type":"quantitative","title":null},"y2":{"field":"p2"}}},
{"data":{"values":[{"t":"2024-11-05T03:04Z","p":0.34655,"label":"0.3466"},{"t":"2024-11-05T03:04Z","p":0.33205,"label":"0.3321"},{"t":"2024-11-05T03:04Z","p":0.32605,"label":"0.3261"}]},"mark":{"type":"text","align":"left","baseline":"middle","font":"Noto Sans","fontSize":16.5,"fontWeight":700,"color":"#ffffff"},"encoding":{"x":{"field":"t","type":"temporal","title":null},"y":{"field":"p","type":"quantitative","title":null},"text":{"field":"label"}}},
{"data":{"values":[{"t":"2024-11-05T03:04Z","p":0.3437,"label":"50:01"}]},"mark":{"type":"text","align":"left","baseline":"middle","font":"Noto Sans","fontSize":16,"fontWeight":600,"color":"#fcc2c8"},"encoding":{"x":{"field":"t","type":"temporal","title":null},"y":{"field":"p","type":"quantitative","title":null},"text":{"field":"label"}}},
{"data":{"values":[{"t":"2024-09-12T11:28Z","p":0.4036,"label":"Cardano / TetherUS, 4h, BINANCE"},{"t":"2024-09-21T02:16Z","p":0.4036,"label":"O"},{"t":"2024-09-23T10:34Z","p":0.4036,"label":"H"},{"t":"2024-09-25T18:58Z","p":0.4036,"label":"L"},{"t":"2024-09-28T01:28Z","p":0.4036,"label":"C"}]},"mark":{"type":"text","align":"left","baseline":"middle","font":"Noto Sans","fontSize":14.4,"color":"#131722"},"encoding":{"x":{"field":"t","type":"temporal","title":null},"y":{"field":"p","type":"quantitative","title":null},"text":{"field":"label"}}},
{"data":{"values":[{"t":"2024-09-21T11:04Z","p":0.4036,"label":"0.3473"},{"t":"2024-09-23T19:22Z","p":0.4036,"label":"0.3484"},{"t":"2024-09-26T01:04Z","p":0.4036,"label":"0.3454"},{"t":"2024-09-28T10:16Z","p":0.4036,"label":"0.3466"},{"t":"2024-09-30T08:04Z","p":0.4036,"label":"−0.0008 (−0.23%)"}]},"mark":{"type":"text","align":"left","baseline":"middle","font":"Noto Sans","fontSize":14.4,"color":"#f5364a"},"encoding":{"x":{"field":"t","type":"temporal","title":null},"y":{"field":"p","type":"quantitative","title":null},"text":{"field":"label"}}},
{"data":{"values":[{"t":"2024-10-31T18:16Z","p":0.37150,"label":"0.3728"}]},"mark":{"type":"text","align":"left","baseline":"middle","font":"Noto Sans","fontSize":16.5,"color":"#555555"},"encoding":{"x":{"field":"t","type":"temporal","title":null},"y":{"field":"p","type":"quantitative","title":null},"text":{"field":"label"}}},
{"data":{"values":[{"t":"2024-10-31T18:16Z","p":0.34352,"label":"0.3438"}]},"mark":{"type":"text","align":"left","baseline":"middle","font":"Noto Sans","fontSize":16.5,"color":"#000000"},"encoding":{"x":{"field":"t","type":"temporal","title":null},"y":{"field":"p","type":"quantitative","title":null},"text":{"field":"label"}}},
{"data":{"values":[{"t":"2024-10-29T04:40Z","p":0.31144}]},"mark":{"type":"point","shape":"circle","size":576,"filled":false,"stroke":"#9c27b0","strokeWidth":2,"opacity":1},"encoding":{"x":{"field":"t","type":"temporal","title":null},"y":{"field":"p","type":"quantitative","title":null}}},
{"data":{"values":[{"t":"2024-10-29T04:40Z","p":0.31144}]},"mark":{"type":"point","shape":"M0.3,-1 L-0.6,0.15 L-0.05,0.15 L-0.3,1 L0.6,-0.2 L0.05,-0.2 Z","size":196,"filled":true,"fill":"#9c27b0","opacity":1},"encoding":{"x":{"field":"t","type":"temporal","title":null},"y":{"field":"p","type":"quantitative","title":null}}},
{"data":{"values":[{"t":"2024-09-12T13:14Z","p":0.3001}]},"mark":{"type":"point","shape":"M-1,-0.45 L-0.02,-0.45 L-0.02,0.45 L-0.5,0.45 L-0.5,0 L-1,0 Z M0.38,-0.25 A0.18,0.18 0 1,1 0.02,-0.25 A0.18,0.18 0 1,1 0.38,-0.25 Z M0.55,-0.45 L1,-0.45 L0.55,0.45 L0.1,0.45 Z","size":576,"filled":true,"fill":"#131722","opacity":1},"encoding":{"x":{"field":"t","type":"temporal","title":null},"y":{"field":"p","type":"quantitative","title":null}}},
{"data":{"values":[{"t":"2024-09-13T04:10Z","p":0.3,"label":"TradingView"}]},"mark":{"type":"text","align":"left","baseline":"middle","font":"Noto Sans","fontSize":15,"color":"#3a3e4a"},"encoding":{"x":{"field":"t","type":"temporal","title":null},"y":{"field":"p","type":"quantitative","title":null},"text":{"field":"label"}}}
]}
